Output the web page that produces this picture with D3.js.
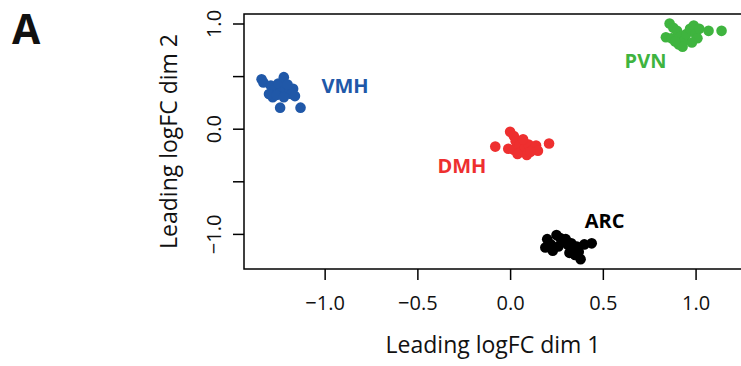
<!DOCTYPE html>
<html>
<head>
<meta charset="utf-8">
<script src="https://cdn.jsdelivr.net/npm/d3@7"></script>
<style>
  html, body { margin: 0; padding: 0; background: #fff; }
  svg { display: block; }
  text { font-family: "Open Sans", "DejaVu Sans", sans-serif; }
</style>
</head>
<body>
<svg id="chart" width="741" height="366"></svg>
<script>
// MDS coordinates per hypothalamic region (leading logFC dims 1 and 2)
const vmhX = [-1.34, -1.33, -1.29, -1.27, -1.25, -1.22, -1.24, -1.21, -1.19, -1.18, -1.17, -1.16, -1.28, -1.30, -1.26, -1.22, -1.24, -1.13, -1.20];
const vmhY = [0.47, 0.44, 0.41, 0.37, 0.43, 0.49, 0.34, 0.38, 0.36, 0.33, 0.38, 0.31, 0.30, 0.33, 0.32, 0.30, 0.20, 0.20, 0.42];

const dmhX = [-0.08, 0.00, 0.02, 0.03, -0.01, 0.02, 0.05, 0.06, 0.08, 0.09, 0.10, 0.12, 0.14, 0.15, 0.21, 0.04, 0.07, 0.11];
const dmhY = [-0.17, -0.03, -0.07, -0.12, -0.19, -0.20, -0.16, -0.22, -0.18, -0.25, -0.15, -0.20, -0.16, -0.21, -0.14, -0.24, -0.10, -0.22];

const arcX = [0.20, 0.19, 0.22, 0.25, 0.27, 0.26, 0.29, 0.31, 0.30, 0.33, 0.34, 0.36, 0.37, 0.38, 0.35, 0.40, 0.44, 0.23, 0.32];
const arcY = [-1.05, -1.13, -1.10, -1.01, -1.04, -1.12, -1.07, -1.10, -1.05, -1.09, -1.14, -1.12, -1.17, -1.24, -1.20, -1.10, -1.09, -1.16, -1.18];

const pvnX = [0.86, 0.88, 0.84, 0.87, 0.90, 0.92, 0.91, 0.94, 0.95, 0.97, 0.99, 1.00, 1.01, 0.98, 1.02, 0.93, 1.07, 1.14, 0.89];
const pvnY = [1.00, 0.96, 0.87, 0.86, 0.93, 0.88, 0.80, 0.84, 0.90, 0.95, 0.98, 0.90, 0.86, 0.82, 0.95, 0.78, 0.93, 0.93, 0.83];

const groupNames = ["VMH", "DMH", "ARC", "PVN"];
const groupColors = ["#2058a8", "#ee2f2f", "#000000", "#3fb43f"];
// label centres in data units
const labelX = [-0.89, -0.26, 0.51, 0.73];
const labelY = [0.41, -0.35, -0.88, 0.64];

const xTicks = [-1.0, -0.5, 0.0, 0.5, 1.0];
const yTicks = [-1.0, -0.5, 0.0, 0.5, 1.0];
const yTickLabels = ["\u22121.0", "", "0.0", "", "1.0"];

const groups = [
  { x: vmhX, y: vmhY },
  { x: dmhX, y: dmhY },
  { x: arcX, y: arcY },
  { x: pvnX, y: pvnY }
];

const svg = d3.select("#chart");
const plotLeft = 244, plotRight = 742, plotTop = 14, plotBottom = 269;

const x = d3.scaleLinear().domain([-1.4348, 1.2503]).range([plotLeft, plotRight]);
const y = d3.scaleLinear().domain([-1.3337, 1.0903]).range([plotBottom, plotTop]);

const fmt = v => (v < 0 ? "\u2212" : "") + Math.abs(v).toFixed(1);

// points
groups.forEach((g, gi) => {
  svg.append("g")
    .selectAll("circle")
    .data(g.x.map((v, i) => [v, g.y[i]]))
    .join("circle")
    .attr("cx", d => x(d[0]))
    .attr("cy", d => y(d[1]))
    .attr("r", 5.3)
    .attr("fill", groupColors[gi]);
});

// group labels
svg.append("g")
  .selectAll("text")
  .data(groupNames)
  .join("text")
  .attr("x", (d, i) => x(labelX[i]))
  .attr("y", (d, i) => y(labelY[i]) + 7)
  .attr("text-anchor", "middle")
  .attr("font-size", 20)
  .attr("font-weight", "bold")
  .attr("fill", (d, i) => groupColors[i])
  .text(d => d);

// frame
svg.append("rect")
  .attr("x", plotLeft).attr("y", plotTop)
  .attr("width", plotRight - plotLeft).attr("height", plotBottom - plotTop)
  .attr("fill", "none").attr("stroke", "#000").attr("stroke-width", 1.5);

// x axis
const xAxis = svg.append("g")
  .attr("transform", `translate(0,${plotBottom})`)
  .call(d3.axisBottom(x).tickValues(xTicks).tickFormat(fmt).tickSize(11).tickPadding(16));
xAxis.select(".domain").remove();
xAxis.selectAll("line").attr("stroke-width", 1.5);
xAxis.selectAll("text").attr("font-size", 20).attr("fill", "#111")
  .attr("font-family", "'Open Sans', sans-serif");

// y axis
const yAxis = svg.append("g")
  .attr("transform", `translate(${plotLeft},0)`)
  .call(d3.axisLeft(y).tickValues(yTicks).tickFormat((d, i) => yTickLabels[i]).tickSize(11));
yAxis.select(".domain").remove();
yAxis.selectAll("line").attr("stroke-width", 1.5);
yAxis.selectAll("text")
  .attr("font-size", 20).attr("fill", "#111")
  .attr("font-family", "'Open Sans', sans-serif")
  .attr("text-anchor", "middle")
  .attr("dy", null)
  .attr("x", null)
  .attr("transform", "translate(-23,0) rotate(-90)");

// axis titles
svg.append("text")
  .attr("x", (plotLeft + 742) / 2).attr("y", 353)
  .attr("text-anchor", "middle")
  .attr("font-size", 23).attr("fill", "#111")
  .text("Leading logFC dim 1");

svg.append("text")
  .attr("transform", `translate(177,${(plotTop + plotBottom) / 2}) rotate(-90)`)
  .attr("text-anchor", "middle")
  .attr("font-size", 23).attr("fill", "#111")
  .text("Leading logFC dim 2");

// panel letter
svg.append("text")
  .attr("x", 12).attr("y", 44)
  .attr("font-family", "'Liberation Sans', Arial, sans-serif")
  .attr("font-size", 41).attr("font-weight", "bold")
  .attr("fill", "#111")
  .text("A");
</script>
</body>
</html>
